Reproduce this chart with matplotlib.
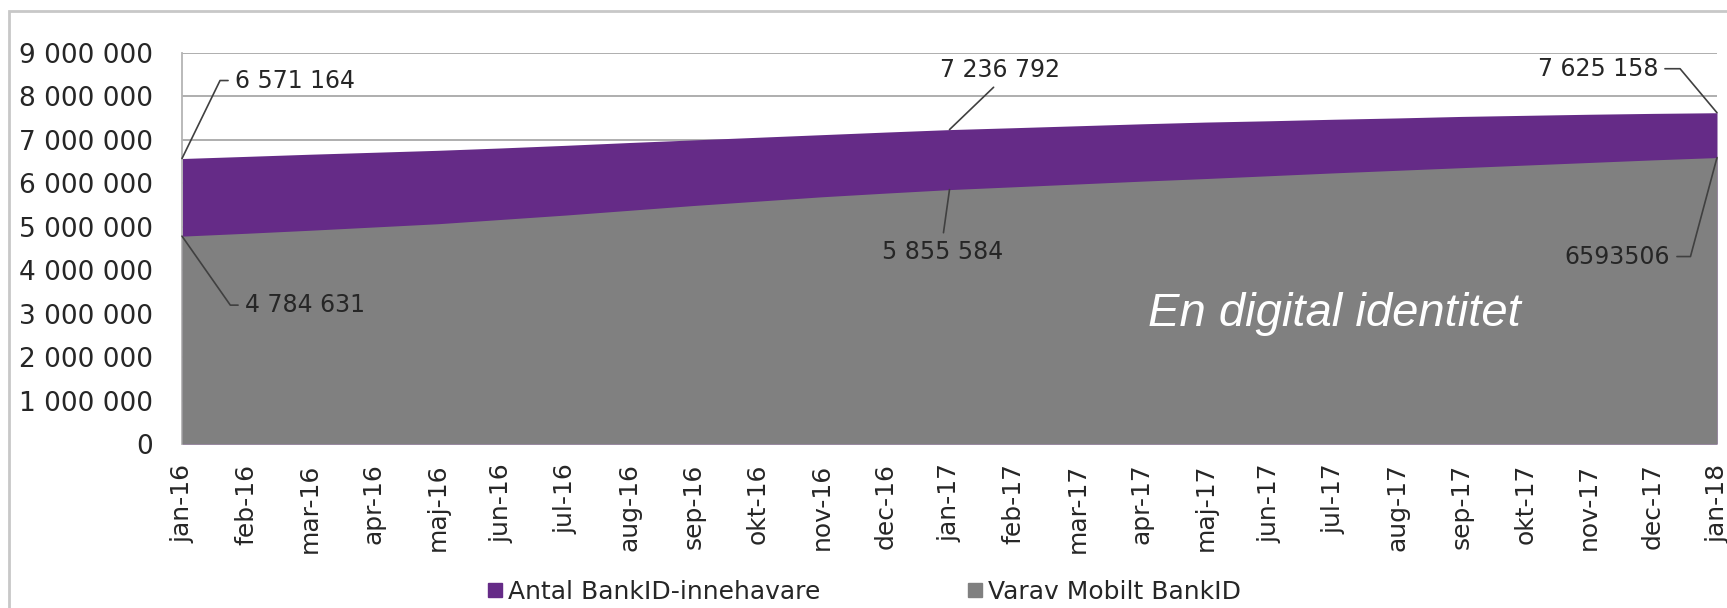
import matplotlib
matplotlib.use("Agg")
import matplotlib.pyplot as plt
from matplotlib.lines import Line2D
from matplotlib.patches import Rectangle
import numpy as np

# Monthly values, jan-16 .. jan-18
months = ['jan-16', 'feb-16', 'mar-16', 'apr-16', 'maj-16', 'jun-16', 'jul-16',
          'aug-16', 'sep-16', 'okt-16', 'nov-16', 'dec-16', 'jan-17', 'feb-17',
          'mar-17', 'apr-17', 'maj-17', 'jun-17', 'jul-17', 'aug-17', 'sep-17',
          'okt-17', 'nov-17', 'dec-17', 'jan-18']
total = [6571164, 6620000, 6670000, 6715000, 6760000, 6815000, 6875000,
         6940000, 7000000, 7060000, 7120000, 7180000, 7236792, 7280000,
         7325000, 7370000, 7410000, 7440000, 7475000, 7505000, 7540000,
         7565000, 7590000, 7610000, 7625158]
mobile = [4784631, 4850000, 4920000, 4995000, 5070000, 5170000, 5270000,
          5380000, 5490000, 5590000, 5690000, 5775000, 5855584, 5920000,
          5985000, 6050000, 6110000, 6175000, 6240000, 6300000, 6360000,
          6420000, 6480000, 6540000, 6593506]
series_names = ['Antal BankID-innehavare', 'Varav Mobilt BankID']
yticks = [0, 1000000, 2000000, 3000000, 4000000, 5000000, 6000000,
          7000000, 8000000, 9000000]

purple = '#652b87'
grey = '#808080'
txt = '#262626'

fig = plt.figure(figsize=(17.27, 6.08), dpi=100)
ax = fig.add_axes([182 / 1727, 1 - 444 / 608, (1717 - 182) / 1727, (444 - 53) / 608])

x = np.arange(len(months))
ax.fill_between(x, total, color=purple, lw=0, zorder=2)
ax.fill_between(x, mobile, color=grey, lw=0, zorder=3)

ax.set_xlim(0, len(months) - 1)
ax.set_ylim(0, 9000000)
ax.set_yticks(yticks)
ax.set_yticklabels([f"{v:,.0f}".replace(',', ' ') for v in yticks])
ax.set_xticks(x)
ax.set_xticklabels(months, rotation=90)
ax.tick_params(axis='y', length=0, pad=21, labelsize=19, labelcolor=txt)
ax.tick_params(axis='x', length=0, pad=14, labelsize=18, labelcolor=txt)

ax.grid(axis='y', color='#a8a8a8', lw=1.3, zorder=1)
ax.set_axisbelow(True)
for s in ['top', 'right', 'bottom']:
    ax.spines[s].set_visible(False)
ax.spines['left'].set_color('#b4b4b4')
ax.spines['left'].set_linewidth(1.3)


def label(text, xi, yv, off, ha, rel, conn):
    ax.annotate(text, xy=(xi, yv), xytext=off, textcoords='offset pixels',
                ha=ha, va='center', fontsize=17, color=txt, zorder=5,
                arrowprops=dict(arrowstyle='-', color='#404040', lw=1.2,
                                shrinkA=3, shrinkB=0, relpos=rel,
                                connectionstyle=conn))


def fmt(v):
    return f"{v:,.0f}".replace(',', ' ')


last = len(months) - 1
label(fmt(total[0]), 0, total[0], (53, 78), 'left', (0, 0.5),
      'angle,angleA=0,angleB=64,rad=0')
label(fmt(mobile[0]), 0, mobile[0], (63, -69), 'left', (0, 0.5),
      'angle,angleA=0,angleB=-55,rad=0')
label(fmt(total[12]), 12, total[12], (50, 60), 'center', (0.5, 0), 'arc3')
label(fmt(mobile[12]), 12, mobile[12], (-7, -62), 'center', (0.5, 1), 'arc3')
label(fmt(total[last]), last, total[last], (-59, 44), 'right', (1, 0.5),
      'angle,angleA=0,angleB=130,rad=0')
label(str(mobile[last]), last, mobile[last], (-47, -99), 'right', (1, 0.5),
      'angle,angleA=0,angleB=75,rad=0')

ax.text(0.751, 0.332, 'En digital identitet', transform=ax.transAxes,
        ha='center', va='center', color='white', fontsize=34, style='italic',
        family='Liberation Sans', zorder=6)

handles = [Line2D([], [], marker='s', ls='', color=c, markersize=9.5)
           for c in [purple, grey]]
fig.legend(handles, series_names, ncol=2, loc='center',
           bbox_to_anchor=(0.5006, 1 - 592 / 608), frameon=False,
           fontsize=18, handlelength=0.55, handletextpad=0.25,
           columnspacing=5.9, borderpad=0, labelcolor=txt)

# outer chart frame
fig.add_artist(Rectangle((9 / 1727, -0.1), 2, 1.1 - 11 / 608,
                         transform=fig.transFigure, fill=False,
                         ec='#c8c8c8', lw=2))

fig.savefig('out.png', dpi=100)
